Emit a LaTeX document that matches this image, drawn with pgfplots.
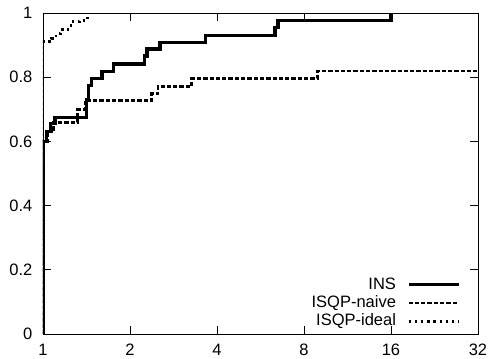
\documentclass[border=0pt]{standalone}
\usepackage{fontspec}
\setmainfont{Liberation Sans}
\usepackage{pgfplots}
\pgfplotsset{compat=1.18}
\begin{document}
\fontsize{16.5bp}{18bp}\selectfont
\begin{tikzpicture}
\begin{axis}[
  name=ax,
  scale only axis,
  width=435bp, height=321bp,
  xmode=log, log basis x=2,
  xmin=1, xmax=32, ymin=0, ymax=1,
  xtick={1,2,4,8,16,32},
  xticklabels={1,2,4,8,16,32},
  ytick={0,0.2,0.4,0.6,0.8,1},
  yticklabels={0,0.2,0.4,0.6,0.8,1},
  tick align=inside,
  major tick length=8bp,
  minor tick num=0,
  every tick/.style={black, line width=0.8bp},
  axis line style={line width=0.8bp},
  tick label style={font=\fontsize{16.5bp}{18bp}\selectfont},
  yticklabel style={xshift=-5bp},
  xticklabel style={inner sep=0pt, yshift=-10bp},
  /pgf/number format/assume math mode=true,
  legend style={at={(rel axis cs:0.959,0.0165)}, anchor=south east, draw=none, fill=none,
    inner sep=0pt, outer sep=0pt,
    font=\fontsize{16.5bp}{18bp}\selectfont, row sep=3.3bp, column sep=11bp,
    nodes={inner sep=0pt, text height=12bp, text depth=3bp}},
  legend cell align=right,
  legend plot pos=right,
  legend image code/.code={\draw[#1] (0bp,0bp) -- (50bp,0bp);},
]
\addplot[const plot, black, line width=3.2bp] coordinates {
(1,0) (1,0.60) (1.03,0.63) (1.06,0.655) (1.10,0.675) (1.41,0.73) (1.44,0.775)
(1.47,0.795) (1.60,0.818) (1.75,0.841) (2.25,0.866) (2.29,0.888) (2.54,0.909)
(3.64,0.931) (6.35,0.955) (6.5,0.977) (16,1.0)};
\addlegendentry{INS}
\addplot[const plot, black, line width=2.8bp, dash pattern=on 4.3bp off 2bp] coordinates {
(1,0) (1,0.60) (1.04,0.63) (1.09,0.66) (1.32,0.70) (1.40,0.727) (2.38,0.748)
(2.50,0.772) (3.27,0.796) (8.92,0.819) (32,0.819)};
\addlegendentry{ISQP-naive}
\addplot[const plot, black, line width=2.8bp, dash pattern=on 2.5bp off 3.7bp] coordinates {
(1,0) (1,0.91) (1.07,0.92) (1.11,0.935) (1.15,0.948) (1.22,0.96) (1.27,0.974)
(1.34,0.977) (1.43,0.995)};
\addlegendentry{ISQP-ideal}
\end{axis}
\pgfresetboundingbox
\path[use as bounding box] ([xshift=-43bp,yshift=-25bp]ax.south west) rectangle ([xshift=13bp,yshift=13bp]ax.north east);
\end{tikzpicture}
\end{document}
